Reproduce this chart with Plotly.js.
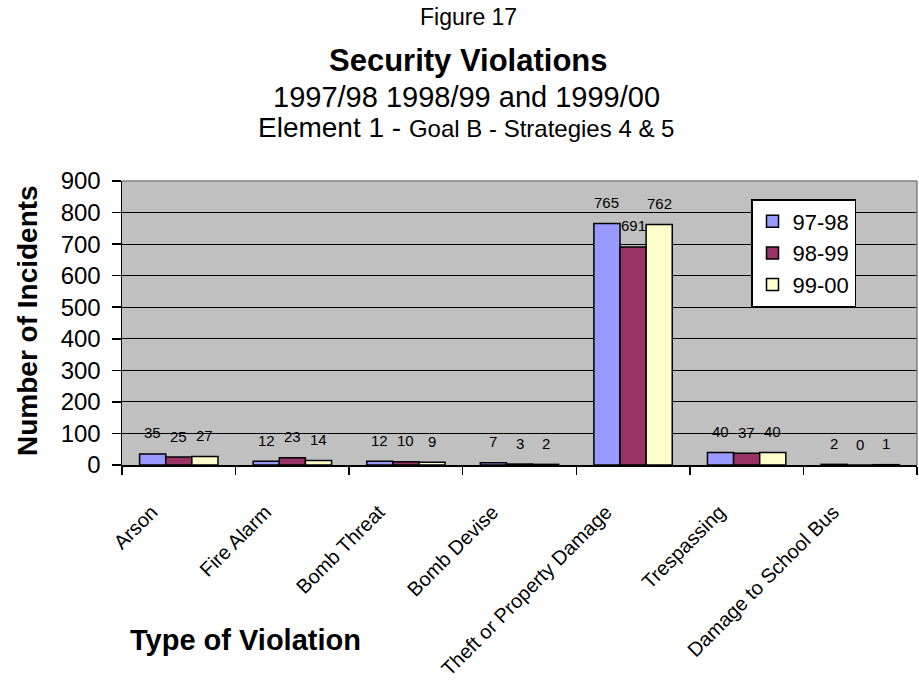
<!DOCTYPE html>
<html>
<head>
<meta charset="utf-8">
<script src="https://cdn.plot.ly/plotly-3.0.1.min.js"></script>
<style>html,body{margin:0;padding:0;background:#fff;}#chart{width:919px;height:690px;}</style>
</head>
<body>
<div id="chart"></div>
<script>
const categories = ["Arson", "Fire Alarm", "Bomb Threat", "Bomb Devise", "Theft or Property Damage", "Trespassing", "Damage to School Bus"];
const seriesNames = ["97-98", "98-99", "99-00"];
const values9798 = [35, 12, 12, 7, 765, 40, 2];
const values9899 = [25, 23, 10, 3, 691, 37, 0];
const values9900 = [27, 14, 9, 2, 762, 40, 1];
const yTicks = [0, 100, 200, 300, 400, 500, 600, 700, 800, 900];

const colors = ["#9999FF", "#993366", "#FFFFCC"];
const allValues = [values9798, values9899, values9900];
const font = "Liberation Sans, Arial, sans-serif";
const bargap = 0.31;

const traces = allValues.map((vals, j) => ({
  type: "bar",
  name: seriesNames[j],
  x: categories,
  y: vals,
  marker: {color: colors[j], line: {color: "#000", width: 1.5}},
  hoverinfo: "skip"
}));

const annotations = [];
const w = (1 - bargap) / 3;
allValues.forEach((vals, j) => {
  vals.forEach((v, i) => {
    annotations.push({
      x: i + (j - 1) * w, y: v, xref: "x", yref: "y",
      text: String(v), showarrow: false, xanchor: "center", yanchor: "middle", yshift: 21,
      font: {family: font, size: 15, color: "#000"}
    });
  });
});

const plotTop = 181, plotBottom = 465, plotLeft = 122, plotRight = 917;
const py = p => (plotBottom - p) / (plotBottom - plotTop);
const px = p => (p - plotLeft) / (plotRight - plotLeft);

annotations.push(
  {xref: "paper", yref: "paper", x: px(468), y: py(17), text: "Figure 17", showarrow: false, xanchor: "center", yanchor: "middle", font: {family: font, size: 23, color: "#000"}},
  {xref: "paper", yref: "paper", x: px(468), y: py(60), text: "<b>Security Violations</b>", showarrow: false, xanchor: "center", yanchor: "middle", font: {family: font, size: 31, color: "#000"}},
  {xref: "paper", yref: "paper", x: px(466), y: py(97), text: "1997/98 1998/99 and 1999/00", showarrow: false, xanchor: "center", yanchor: "middle", font: {family: font, size: 29, color: "#000"}},
  {xref: "paper", yref: "paper", x: px(466), y: py(128), text: "<span style='font-size:28px'>Element 1 - </span>Goal B - Strategies 4 &amp; 5", showarrow: false, xanchor: "center", yanchor: "middle", font: {family: font, size: 24, color: "#000"}},
  {xref: "paper", yref: "paper", x: px(245), y: py(640), text: "<b>Type of Violation</b>", showarrow: false, xanchor: "center", yanchor: "middle", font: {family: font, size: 29, color: "#000"}},
  {xref: "paper", yref: "paper", x: px(27), y: py(321), text: "<b>Number of Incidents</b>", showarrow: false, textangle: -90, xanchor: "center", yanchor: "middle", font: {family: font, size: 28, color: "#000"}}
);

const layout = {
  width: 919, height: 690,
  margin: {l: plotLeft, r: 919 - plotRight, t: plotTop, b: 690 - plotBottom},
  paper_bgcolor: "#fff",
  plot_bgcolor: "#C0C0C0",
  barmode: "group",
  bargap: bargap,
  bargroupgap: 0,
  showlegend: true,
  legend: {
    x: px(751), y: py(199), xanchor: "left", yanchor: "top",
    bgcolor: "#fff", bordercolor: "#000", borderwidth: 1.5,
    font: {family: font, size: 22, color: "#000"},
    itemwidth: 30, tracegroupgap: 0
  },
  xaxis: {
    type: "category",
    tickangle: -45,
    tickson: "boundaries",
    ticks: "outside", ticklen: 8, tickcolor: "#000", tickwidth: 1.5,
    showline: true, linecolor: "#000", linewidth: 1.5,
    showgrid: false,
    tickfont: {family: font, size: 20, color: "#000"},
    ticklabelstandoff: 26,
    ticklabelshift: -27,
    fixedrange: true
  },
  yaxis: {
    range: [0, 900],
    tickvals: yTicks,
    ticktext: yTicks.map(String),
    ticks: "outside", ticklen: 9, tickcolor: "#000", tickwidth: 1.5,
    showline: true, linecolor: "#000", linewidth: 1.5,
    showgrid: true, gridcolor: "#000", gridwidth: 1,
    zeroline: false,
    tickfont: {family: font, size: 24, color: "#000"},
    ticklabelstandoff: 6,
    fixedrange: true
  },
  shapes: [
    {type: "line", xref: "paper", yref: "paper", x0: 0, x1: 1, y0: 1, y1: 1, line: {color: "#808080", width: 1.5}},
    {type: "line", xref: "paper", yref: "paper", x0: 1, x1: 1, y0: 0, y1: 1, line: {color: "#808080", width: 1.5}}
  ],
  annotations: annotations
};

Plotly.newPlot("chart", traces, layout, {displayModeBar: false, staticPlot: true});
</script>
</body>
</html>
